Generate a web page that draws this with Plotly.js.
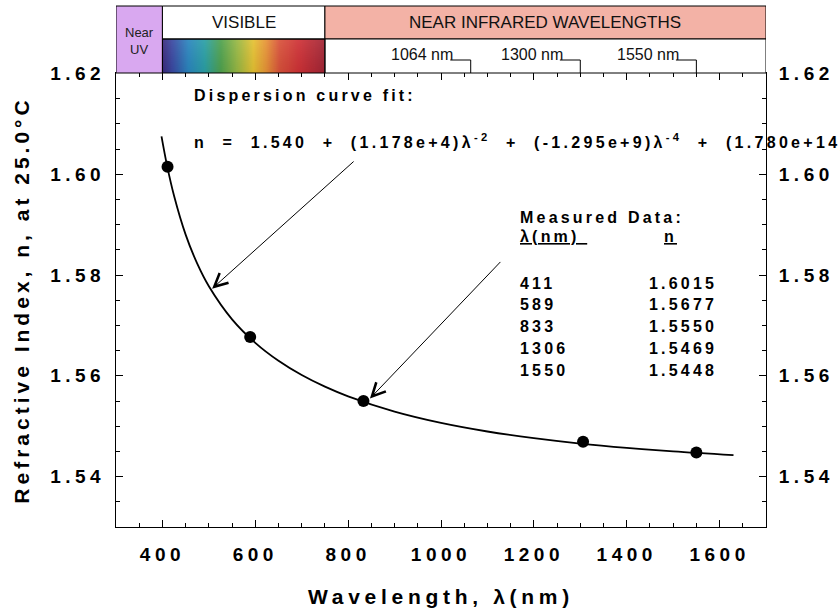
<!DOCTYPE html>
<html>
<head>
<meta charset="utf-8">
<script src="https://cdn.plot.ly/plotly-3.0.1.min.js"></script>
<style>
html,body{margin:0;padding:0;background:#fff;}
#chart{width:840px;height:615px;}
.xtick text,.ytick text,.y2tick text{letter-spacing:4.5px;}
text.xtitle{letter-spacing:4.7px;}
text.ytitle{letter-spacing:4px;}
</style>
</head>
<body>
<div id="chart"></div>
<script>
// ---- data ----
const lambdaMeasured = [411, 589, 833, 1306, 1550];
const nMeasured = [1.6015, 1.5677, 1.5550, 1.5469, 1.5448];

// dispersion fit curve, sampled
const fitLambda = [398, 410, 425, 450, 475, 500, 550, 600, 650, 700, 750, 800, 900, 1000, 1100, 1200, 1300, 1400, 1500, 1630];
const fitN = [1.60754, 1.60172, 1.59574, 1.58803, 1.58227, 1.57779, 1.57122, 1.56655, 1.56299, 1.56016, 1.55785, 1.55593, 1.55290, 1.55066, 1.54895, 1.54762, 1.54655, 1.54570, 1.54500, 1.54426];

const bandEdges = [300, 400, 750, 1700];
const bandLabels = ['Near<br>UV', 'VISIBLE', 'NEAR INFRARED WAVELENGTHS'];
const laserLines = [1064, 1300, 1550];
const laserLabels = ['1064 nm', '1300 nm', '1550 nm'];

const xTickVals = [400, 600, 800, 1000, 1200, 1400, 1600];
const yTickVals = [1.54, 1.56, 1.58, 1.60, 1.62];

const fitLabel = 'Dispersion curve fit:';
const equationText = 'n\u00a0\u00a0=\u00a0\u00a01.540\u00a0\u00a0+\u00a0\u00a0(1.178e+4)\u03bb<sup>-2</sup>\u00a0\u00a0+\u00a0\u00a0(-1.295e+9)\u03bb<sup>-4</sup>\u00a0\u00a0+\u00a0\u00a0(1.780e+14)\u03bb<sup>-6</sup>';
const tableTitle = 'Measured Data:';
const tableHeads = ['<u>\u03bb(nm)\u00a0</u>', '<u>n</u>'];

// ---- layout helpers ----
const W = 840, H = 615, ML = 116, MR = 74, MT = 73, MB = 88;
const PW = W - ML - MR, PH = H - MT - MB;
const py = px => 1 - (px - MT) / PH;   // pixel row -> paper y
const pxX = px => (px - ML) / PW;      // pixel col -> paper x

const FONT = 'Liberation Sans, Arial, Helvetica, sans-serif';
const boldFont = (s) => ({family: FONT, size: s, color: '#000', weight: 'bold'});

// spectrum gradient image
const spectrumStops = [[0,'#3b2a7c'],[0.06,'#3a48a2'],[0.16,'#2a86bf'],[0.26,'#2aa0a6'],[0.36,'#4fa24e'],[0.46,'#98b843'],[0.56,'#e6c232'],[0.64,'#e79236'],[0.72,'#d9523a'],[0.84,'#cf3136'],[1,'#a22535']];
const cv = document.createElement('canvas');
cv.width = 350; cv.height = 34;
const ctx = cv.getContext('2d');
const grd = ctx.createLinearGradient(0, 0, 350, 0);
spectrumStops.forEach(s => grd.addColorStop(s[0], s[1]));
ctx.fillStyle = grd; ctx.fillRect(0, 0, 350, 34);
const shade = ctx.createLinearGradient(0, 0, 0, 34);
shade.addColorStop(0, 'rgba(255,255,255,0.08)');
shade.addColorStop(1, 'rgba(0,0,0,0.06)');
ctx.fillStyle = shade; ctx.fillRect(0, 0, 350, 34);
const spectrumURL = cv.toDataURL();

// ---- shapes (banner) ----
const yTop = py(6), yMid = py(39);
const blk = {color: '#000', width: 1};
const shapes = [
  {type:'rect', xref:'x', yref:'paper', x0:bandEdges[0], x1:bandEdges[1], y0:1, y1:yTop, fillcolor:'#d9a8f0', line:blk},
  {type:'rect', xref:'x', yref:'paper', x0:bandEdges[1], x1:bandEdges[2], y0:yMid, y1:yTop, fillcolor:'#ffffff', line:blk},
  {type:'rect', xref:'x', yref:'paper', x0:bandEdges[2], x1:bandEdges[3], y0:yMid, y1:yTop, fillcolor:'#f3b2a6', line:blk},
  {type:'rect', xref:'x', yref:'paper', x0:bandEdges[2], x1:bandEdges[3], y0:1, y1:yMid, fillcolor:'#ffffff', line:blk},
  {type:'rect', xref:'x', yref:'paper', x0:bandEdges[1], x1:bandEdges[2], y0:1, y1:yMid, fillcolor:'rgba(0,0,0,0)', line:blk, layer:'above'}
];
const yBracket = py(60);
laserLines.forEach(l => {
  shapes.push({type:'path', xref:'x', yref:'paper', path:`M${l-44},${yBracket} L${l},${yBracket} L${l},1`, line:blk});
});

// ---- annotations ----
const annotations = [];
const spaced = [];
function addAnn(a, spacing) {
  if (spacing) spaced.push([annotations.length, spacing]);
  annotations.push(Object.assign({showarrow:false}, a));
}
// banner labels
addAnn({xref:'x', yref:'paper', x:(bandEdges[0]+bandEdges[1])/2, y:py(41), text:bandLabels[0], font:{family:FONT, size:13, color:'#222'}, xanchor:'center', yanchor:'middle'});
addAnn({xref:'x', yref:'paper', x:(bandEdges[1]+bandEdges[2])/2, y:py(22.5), text:bandLabels[1], font:{family:FONT, size:17, color:'#111'}, xanchor:'center', yanchor:'middle'});
addAnn({xref:'x', yref:'paper', x:(bandEdges[2]+bandEdges[3])/2, y:py(22.5), text:bandLabels[2], font:{family:FONT, size:17, color:'#111'}, xanchor:'center', yanchor:'middle'});
laserLines.forEach((l, i) => {
  addAnn({xref:'x', yref:'paper', x:l-33, y:py(55), text:laserLabels[i], font:{family:FONT, size:16, color:'#111'}, xanchor:'right', yanchor:'middle'});
});
// fit text
addAnn({xref:'paper', yref:'paper', x:pxX(192), y:py(96), text:fitLabel, font:boldFont(16), xanchor:'left', align:'left', yanchor:'middle'}, 3.2);
addAnn({xref:'paper', yref:'paper', x:pxX(192), y:py(141), text:equationText, font:boldFont(16), xanchor:'left', align:'left', yanchor:'middle'}, 3.3);
// table
addAnn({xref:'paper', yref:'paper', x:pxX(518), y:py(218), text:tableTitle, font:boldFont(16), xanchor:'left', align:'left', yanchor:'middle'}, 3.2);
addAnn({xref:'paper', yref:'paper', x:pxX(518), y:py(237), text:tableHeads[0], font:boldFont(16), xanchor:'left', align:'left', yanchor:'middle'}, 3.2);
addAnn({xref:'paper', yref:'paper', x:pxX(662), y:py(237), text:tableHeads[1], font:boldFont(16), xanchor:'left', align:'left', yanchor:'middle'}, 3.2);
lambdaMeasured.forEach((l, i) => {
  const yy = py(283 + i * 21.9);
  addAnn({xref:'paper', yref:'paper', x:pxX(518), y:yy, text:String(l), font:boldFont(16), xanchor:'left', align:'left', yanchor:'middle'}, 3.2);
  addAnn({xref:'paper', yref:'paper', x:pxX(647), y:yy, text:nMeasured[i].toFixed(4), font:boldFont(16), xanchor:'left', align:'left', yanchor:'middle'}, 3.2);
});
// arrows (tip on the curve / on the 833 nm point, tail near the texts)
const arrowStyle = {text:'', showarrow:true, arrowhead:5, arrowsize:2.6, arrowwidth:1, arrowcolor:'#000', axref:'x', ayref:'y', xref:'x', yref:'y', standoff:0};
annotations.push(Object.assign({}, arrowStyle, {x:507, y:1.5773, ax:815, ay:1.6028}));
annotations.push(Object.assign({}, arrowStyle, {x:847, y:1.5555, ax:1131, ay:1.5829}));

// letter spacing styles for selected annotations
const st = document.createElement('style');
st.textContent = spaced.map(([i, s]) => `.annotation[data-index="${i}"] text{letter-spacing:${s}px;}`).join('\n');
document.head.appendChild(st);

// ---- traces ----
const traces = [
  {x: fitLambda, y: fitN, mode:'lines', line:{shape:'spline', color:'#000', width:1.8}, hoverinfo:'skip', xaxis:'x', yaxis:'y'},
  {x: lambdaMeasured, y: nMeasured, mode:'markers', marker:{color:'#000', size:12}, xaxis:'x', yaxis:'y2'}
];

const yRange = [1.53, 1.6201];
const commonY = {
  range: yRange, tickvals: yTickVals, ticktext: yTickVals.map(v => v.toFixed(2)),
  ticks:'inside', ticklen:7, tickwidth:1, tickcolor:'#000',
  minor:{ticks:'inside', ticklen:4, dtick:0.005, tick0:1.53, tickcolor:'#000', tickwidth:1, showgrid:false},
  showline:true, linecolor:'#000', linewidth:1, showgrid:false, zeroline:false,
  tickfont: boldFont(19), fixedrange:true
};

const layout = {
  width: W, height: H,
  margin: {l: ML, r: MR, t: MT, b: MB, pad: 0},
  paper_bgcolor:'#fff', plot_bgcolor:'#fff',
  showlegend:false,
  xaxis: {
    range:[300, 1700], tickvals: xTickVals, ticktext: xTickVals.map(String),
    ticks:'inside', ticklen:7, tickwidth:1, tickcolor:'#000',
    minor:{ticks:'inside', ticklen:4, dtick:50, tick0:300, tickcolor:'#000', tickwidth:1, showgrid:false},
    showline:true, linecolor:'#000', linewidth:1, mirror:'ticks',
    showgrid:false, zeroline:false, tickfont: boldFont(19), ticklabelstandoff: 10,
    title:{text:'Wavelength, \u03bb(nm)', font: boldFont(21), standoff: 25},
    automargin:false, fixedrange:true
  },
  yaxis: Object.assign({}, commonY, {
    side:'left', ticklabelstandoff: 6,
    title:{text:'Refractive Index, n, at 25.0\u00b0C', font: boldFont(21), standoff: 14},
    automargin:false
  }),
  yaxis2: Object.assign({}, commonY, {
    side:'right', overlaying:'y', anchor:'x', ticklabelstandoff: 8, automargin:false
  }),
  shapes: shapes,
  annotations: annotations,
  images: [{source: spectrumURL, xref:'x', yref:'paper', x:bandEdges[1], y:yMid, sizex:bandEdges[2]-bandEdges[1], sizey:yMid-1, xanchor:'left', yanchor:'top', sizing:'stretch', layer:'above'}]
};

Plotly.newPlot('chart', traces, layout, {displayModeBar:false, staticPlot:true});
</script>
</body>
</html>
